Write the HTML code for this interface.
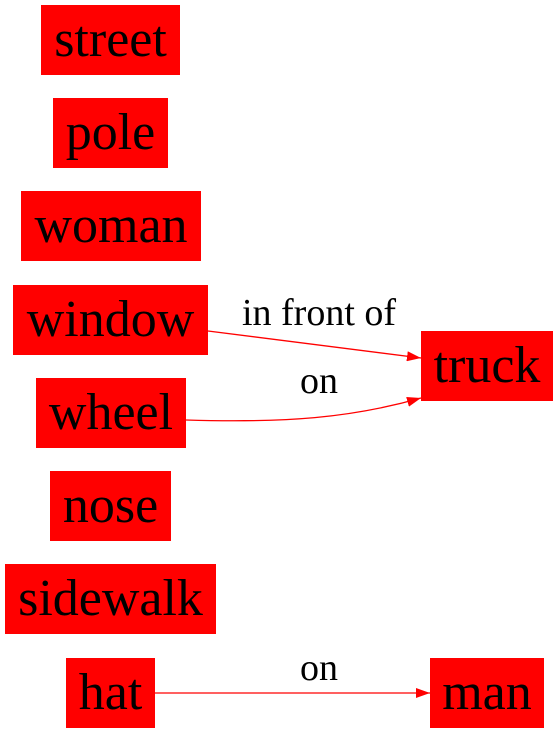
<!DOCTYPE html>
<html><head><meta charset="utf-8"><style>
html,body{margin:0;padding:0;background:#fff;width:559px;height:733px;overflow:hidden}
svg text{font-family:"Liberation Serif",serif}
</style></head><body>
<svg id="g" width="559" height="733" viewBox="0 0 559 733"></svg>
<script>
const nodeNames=["street","pole","woman","window","wheel","nose","sidewalk","hat","truck","man"];
const nodeX=[41,53,21,13,36,50,5,66,421,430];
const nodeY=[5,98,191,285,378,471,564,658,331,658];
const nodeW=[139,115,180,195,150,121,211,89,132,114];
const edgeFrom=["window","wheel","hat"];
const edgeTo=["truck","truck","man"];
const edgeLabels=["in front of","on","on"];
const NS="http://www.w3.org/2000/svg";
const svg=document.getElementById('g');
const H=70;
function mk(t,a){const e=document.createElementNS(NS,t);for(const k in a)e.setAttribute(k,a[k]);return e;}
const defs=mk('defs',{});
const mrk=mk('marker',{id:'ah',markerWidth:'14',markerHeight:'10',refX:'14',refY:'5',orient:'auto',markerUnits:'userSpaceOnUse'});
mrk.appendChild(mk('path',{d:'M0,0 L14,5 L0,10 Z',fill:'#f00'}));
defs.appendChild(mrk);svg.appendChild(defs);
nodeNames.forEach((n,i)=>{
  const g=mk('g',{});
  
  
  g.appendChild(mk('rect',{x:nodeX[i],y:nodeY[i],width:nodeW[i],height:H,fill:'#f00'}));
  const t=mk('text',{x:nodeX[i]+nodeW[i]/2,y:nodeY[i]+51,'text-anchor':'middle','font-size':'52',fill:'#000'});
  t.textContent=n;g.appendChild(t);svg.appendChild(g);
});
edgeFrom.forEach((f,i)=>{
  const a=nodeNames.indexOf(f),b=nodeNames.indexOf(edgeTo[i]);
  const x1=nodeX[a]+nodeW[a],x2=nodeX[b];
  let y1=nodeY[a]+H/2,y2=nodeY[b]+H/2,d;
  if(Math.abs(y1-y2)<1){d=`M${x1},${y1} L${x2},${y2}`;}
  else if(y1<y2){y1=nodeY[a]+46;y2=nodeY[b]+27;d=`M${x1},${y1} L${x2},${y2}`;}
  else{y1=nodeY[a]+42;y2=nodeY[b]+67;d=`M${x1},${y1} C${x1+100},${y1+3} ${x2-70},${y1-2} ${x2},${y2}`;}
  const p=mk('path',{d:d,stroke:'#f00','stroke-width':'1.3',fill:'none','marker-end':'url(#ah)'});
  
  
  svg.appendChild(p);
  const t=mk('text',{x:319,y:(Math.abs(y1-y2)<1?nodeY[a]+22:(y1<y2?nodeY[a]+40:nodeY[b]+62)),'text-anchor':'middle','font-size':'38',fill:'#000'});
  
  
  t.textContent=edgeLabels[i];svg.appendChild(t);
});
</script>
</body></html>
